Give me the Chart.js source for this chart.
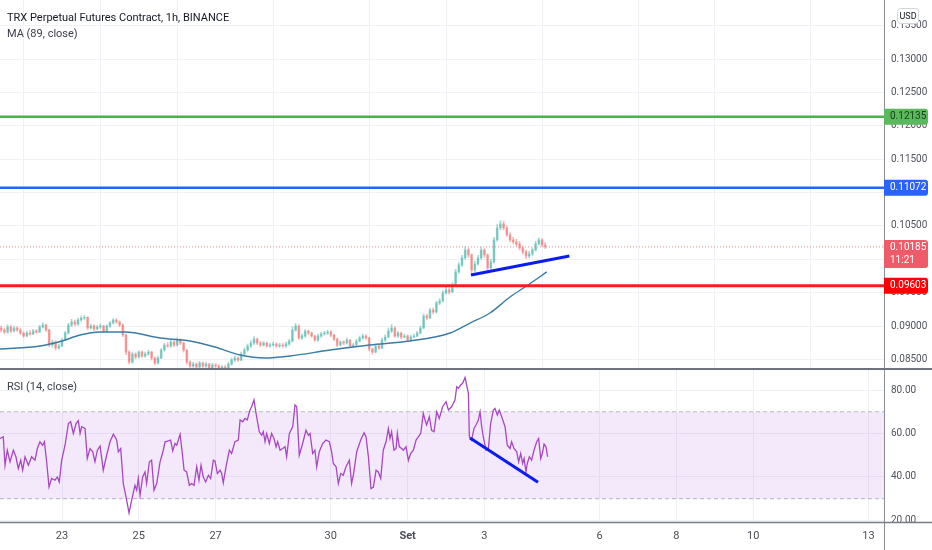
<!DOCTYPE html>
<html>
<head>
<meta charset="utf-8">
<title>TRX Perpetual Futures Contract, 1h</title>
<script src="https://cdn.jsdelivr.net/npm/chart.js@4.4.0/dist/chart.umd.min.js"></script>
<style>
  body { margin: 0; background: #fff; }
  #wrap { position: relative; width: 932px; height: 550px; overflow: hidden; }
  canvas { position: absolute; left: 0; }
  .lg { position: absolute; left: 7px; font: 11px Roboto, sans-serif; color: #131722; white-space: nowrap; }
  .lg.sub { color: #3b3e47; }
</style>
</head>
<body>
<div id="wrap">
  <canvas id="priceChart" width="932" height="370" style="top:0"></canvas>
  <canvas id="rsiChart" width="932" height="180" style="top:370px"></canvas>
  <div class="lg" style="top:11px">TRX Perpetual Futures Contract, 1h, BINANCE</div>
  <div class="lg sub" style="top:27px">MA (89, close)</div>
  <div class="lg sub" style="top:380px">RSI (14, close)</div>
</div>
<script>
var fontFamily = "Roboto, sans-serif";
Chart.defaults.font.family = fontFamily;
Chart.defaults.font.size = 10;
Chart.defaults.color = '#50535e';

// hours are counted from 23 Aug 00:00, one candle every 2 hours
var firstHour = -38;
var stepHours = 2;
var firstOpen = 0.0897;

var closes = [
  0.0894,0.0891,0.08985,0.08925,0.0897,0.0894,0.08895,0.0885,0.08895,0.0888,
  0.08925,0.0891,0.08985,0.09015,0.0894,0.08715,0.0876,0.0867,0.0870,0.0879,
  0.08895,0.09015,0.0906,0.0903,0.0909,0.0912,0.0913,0.0897,0.0900,0.08955,
  0.08985,0.0900,0.08925,0.0900,0.09045,0.0909,0.0906,0.09015,0.08865,0.0861,
  0.0846,0.0858,0.08535,0.0861,0.0855,0.0858,0.0861,0.0852,0.08445,0.0852,
  0.0864,0.08715,0.0870,0.0876,0.08715,0.0879,0.08745,0.0864,0.0846,0.0840,
  0.0843,0.08385,0.08445,0.0840,0.0843,0.0837,0.08415,0.0840,0.08355,0.08385,
  0.0837,0.0843,0.0849,0.0852,0.0849,0.0858,0.0864,0.0870,0.08745,0.08805,
  0.08745,0.08715,0.08745,0.0870,0.08715,0.0873,0.0870,0.08715,0.0870,0.0873,
  0.08775,0.0894,0.0900,0.0882,0.0885,0.08925,0.08895,0.0885,0.0879,0.0885,
  0.0888,0.08895,0.0891,0.08865,0.08805,0.08715,0.0876,0.08745,0.0879,0.0870,
  0.08715,0.08775,0.0882,0.0885,0.0882,0.08655,0.0861,0.0870,0.0867,0.0879,
  0.08835,0.08925,0.0897,0.0885,0.08895,0.08835,0.0885,0.0879,0.08835,0.0885,
  0.08895,0.0897,0.0915,0.0912,0.0924,0.0921,0.09345,0.09375,0.09495,0.0954,
  0.0951,0.09615,0.0981,0.09915,0.1002,0.1014,0.10065,0.0984,0.0993,0.1002,
  0.1014,0.10065,0.0987,0.0996,0.1029,0.1047,0.1053,0.1047,0.10365,0.1029,
  0.1026,0.1023,0.1017,0.1011,0.1005,0.1008,0.1014,0.1023,0.1029,0.10215,
  0.10185
];
var highs = [
  0.0900,0.0897,0.0902,0.0901,0.0900,0.0899,0.0897,0.0891,0.0892,0.0893,
  0.0895,0.0895,0.0901,0.0905,0.0903,0.0895,0.0879,0.0878,0.0873,0.0882,
  0.0892,0.0904,0.0910,0.0909,0.0912,0.0915,0.0916,0.0914,0.0903,0.0902,
  0.0901,0.0903,0.0901,0.0902,0.0907,0.0911,0.0911,0.0908,0.0903,0.0888,
  0.0863,0.0861,0.0860,0.0863,0.0863,0.0861,0.0864,0.0862,0.0854,0.0855,
  0.0866,0.0874,0.0875,0.0879,0.0878,0.0882,0.0881,0.0876,0.0865,0.0848,
  0.0846,0.0845,0.0847,0.0846,0.0846,0.0844,0.0844,0.0844,0.0842,0.0841,
  0.0841,0.0846,0.0852,0.0855,0.0854,0.0861,0.0867,0.0873,0.0878,0.0884,
  0.0882,0.0877,0.0877,0.0876,0.0874,0.0876,0.0875,0.0874,0.0874,0.0876,
  0.0880,0.0899,0.0904,0.0902,0.0888,0.0895,0.0894,0.0891,0.0886,0.0888,
  0.0891,0.0892,0.0894,0.0893,0.0888,0.0882,0.0878,0.0878,0.0882,0.0880,
  0.0874,0.0880,0.0885,0.0888,0.0887,0.0883,0.0867,0.0872,0.0872,0.0882,
  0.0887,0.0897,0.0902,0.0899,0.0892,0.0891,0.0888,0.0887,0.0886,0.0888,
  0.0892,0.0900,0.0918,0.0918,0.0927,0.0927,0.0937,0.0941,0.0953,0.0958,
  0.0957,0.0965,0.0985,0.0995,0.1006,0.1019,0.1017,0.1008,0.0997,0.1006,
  0.1018,0.1016,0.1008,0.1000,0.1033,0.1052,0.1058,0.1057,0.1050,0.1040,
  0.1033,0.1030,0.1027,0.1020,0.1014,0.1012,0.1017,0.1027,0.1032,0.1031,
  0.1025
];
var lows = [
  0.0891,0.0888,0.0889,0.0890,0.0891,0.0892,0.0887,0.0883,0.0884,0.0886,
  0.0887,0.0889,0.0890,0.0897,0.0892,0.0869,0.0868,0.0864,0.0865,0.0869,
  0.0878,0.0888,0.0899,0.0900,0.0901,0.0907,0.0909,0.0895,0.0895,0.0893,
  0.0894,0.0896,0.0890,0.0891,0.0898,0.0903,0.0904,0.0899,0.0884,0.0857,
  0.0843,0.0844,0.0851,0.0852,0.0853,0.0853,0.0856,0.0849,0.0842,0.0843,
  0.0851,0.0862,0.0868,0.0868,0.0869,0.0870,0.0872,0.0861,0.0843,0.0837,
  0.0838,0.0836,0.0837,0.0837,0.0838,0.0834,0.0835,0.0837,0.0832,0.0833,
  0.0834,0.0836,0.0841,0.0847,0.0847,0.0848,0.0856,0.0862,0.0868,0.0872,
  0.0872,0.0869,0.0870,0.0868,0.0868,0.0870,0.0868,0.0868,0.0868,0.0868,
  0.0871,0.0876,0.0892,0.0880,0.0880,0.0883,0.0887,0.0883,0.0877,0.0877,
  0.0883,0.0886,0.0887,0.0884,0.0878,0.0869,0.0870,0.0872,0.0873,0.0868,
  0.0868,0.0870,0.0876,0.0880,0.0880,0.0863,0.0858,0.0860,0.0865,0.0866,
  0.0877,0.0882,0.0890,0.0883,0.0883,0.0881,0.0882,0.0877,0.0878,0.0882,
  0.0884,0.0888,0.0896,0.0909,0.0911,0.0918,0.0919,0.0932,0.0936,0.0948,
  0.0948,0.0950,0.0960,0.0979,0.0989,0.1000,0.1003,0.0978,0.0981,0.0991,
  0.1000,0.1003,0.0982,0.0985,0.0994,0.1027,0.1044,0.1044,0.1034,0.1026,
  0.1023,0.1020,0.1014,0.1008,0.1001,0.1002,0.1005,0.1012,0.1021,0.1019,
  0.1016
];

var maHours = [-38.8,-13.8,0,11.3,23.8,39.4,61.3,80,95.6,111.3,126.9,142.5,167.5,192.5,217.5,242.5,255,267.5,280,289.4,303];
var maValues = [0.08655,0.0870,0.08775,0.08865,0.0891,0.0891,0.0882,0.08775,0.08685,0.08565,0.0852,0.0855,0.0864,0.08715,0.08775,0.08895,0.09045,0.09195,0.09435,0.09585,0.0981];

var rsiHours = [
  -38.8,-36.7,-35.6,-34.2,-32.5,-30.4,-28.8,-27.3,-25.8,-24.6,-23.1,-21.0,-19.0,-16.9,-15.4,-13.8,-12.1,-11.0,-9.6,-8.1,
  -6.5,-4.4,-2.9,-1.7,-0.2,1.9,4.0,5.4,7.1,8.8,10.2,11.3,12.3,14.4,15.8,17.5,19.2,20.6,22.1,23.8,
  25.8,27.9,30.0,32.1,34.2,35.2,36.7,38.3,40.0,41.9,43.5,45.6,46.7,47.7,48.8,50.4,51.9,52.9,54.6,56.0,
  57.5,59.2,61.3,63.3,64.4,66.5,67.9,69.2,70.6,71.7,73.8,75.2,76.3,77.9,79.6,81.0,82.5,84.2,85.6,86.9,
  88.3,89.8,91.5,92.9,94.6,95.6,97.1,98.8,99.8,100.8,102.5,104.6,106.0,108.1,110.2,111.3,112.9,114.4,115.8,117.5,
  118.5,120.0,121.3,123.3,124.8,125.8,126.9,127.9,129.6,131.0,132.5,133.8,134.8,136.3,137.9,139.4,140.4,142.1,144.2,145.6,
  146.7,148.3,150.4,152.5,154.0,155.0,156.7,158.1,159.2,160.8,162.9,165.0,167.1,168.5,169.6,171.3,172.7,174.2,175.8,177.5,
  179.6,181.0,182.1,184.2,186.7,188.8,190.0,191.5,193.1,194.6,196.3,197.7,199.2,200.8,202.5,204.0,205.0,206.0,207.5,208.8,
  209.6,210.8,212.3,213.3,215.0,216.5,217.9,219.6,221.3,222.7,224.2,225.8,226.9,227.9,229.6,231.0,232.5,234.2,235.8,237.9,
  240.0,241.5,243.5,245.6,246.7,247.7,249.2,250.4,251.9,252.9,254.0,254.6,256.0,257.5,258.8,260.2,261.3,262.3,263.3,265.0,
  266.5,267.9,269.6,270.6,272.1,273.3,274.8,276.9,278.3,280.0,281.0,282.5,284.2,285.4,286.7,287.9,288.8,290.0,290.8,292.1,
  293.5,295.0,296.7,297.9,299.2,300.2,301.3,302.5,303.5
];
var rsiValues = [
  57.7,58.5,45.4,52.3,47.0,52.3,49.3,43.9,47.7,43.1,49.3,45.4,49.3,47.7,53.1,56.2,54.6,56.2,47.0,35.4,
  39.3,38.5,40.0,37.7,47.7,54.6,64.6,65.4,60.0,64.6,65.9,60.0,63.1,62.3,48.5,53.1,51.6,47.0,52.3,54.2,
  43.1,50.0,56.2,59.7,57.0,51.6,53.1,37.0,30.8,23.5,29.3,36.2,33.9,39.3,31.6,40.0,42.3,37.0,47.0,47.7,
  33.9,37.0,47.0,52.3,56.2,56.6,57.0,52.0,55.4,54.6,59.6,50.8,43.1,42.3,36.2,37.0,36.2,44.7,38.5,45.4,
  40.0,37.7,40.8,39.3,47.7,47.4,41.6,43.1,41.6,37.3,44.7,52.3,50.8,56.2,57.0,66.2,65.4,66.9,66.2,70.8,
  72.3,75.4,69.2,60.8,59.2,60.8,56.2,60.0,55.4,60.0,57.7,53.9,56.2,52.3,53.1,53.9,49.3,60.0,63.1,73.1,
  72.3,50.0,55.4,61.5,59.2,60.0,50.8,52.3,44.7,51.6,55.4,57.0,56.2,51.6,46.2,44.7,37.0,41.6,40.8,44.7,
  47.7,37.0,40.8,51.6,57.0,60.3,58.5,49.3,34.7,35.4,43.1,42.3,39.3,52.3,56.2,62.3,57.7,60.8,52.3,53.1,
  60.0,53.9,53.1,52.3,53.9,47.7,50.8,52.3,57.0,58.5,60.0,69.2,66.2,63.9,67.7,61.5,60.8,70.0,66.9,72.3,
  74.6,70.8,72.3,75.4,81.5,80.8,82.3,83.1,85.8,82.3,78.4,58.5,57.0,62.3,63.9,66.2,70.0,63.1,58.5,52.3,
  53.1,64.6,70.8,71.5,68.5,70.8,67.7,63.1,54.6,53.1,56.2,53.1,51.6,47.0,50.8,46.2,48.5,42.3,46.2,49.3,
  47.7,52.3,56.2,57.7,48.5,50.8,55.1,53.9,49.3
];

var tickHours = [0, 48, 96, 168, 216, 264, 336, 384, 432, 504];
var tickLabels = ['23', '25', '27', '30', 'Set', '3', '6', '8', '10', '13'];
var priceTicks = [0.085, 0.09, 0.095, 0.10, 0.105, 0.11, 0.115, 0.12, 0.125, 0.13, 0.135];
var rsiTicks = [20, 40, 60, 80];
var rsiBand = [70, 30];

var levelValues = [0.12135, 0.11072, 0.09603];
var lastPrice = 0.10185;
var countdown = '11:21';
var trendHours = [255.6, 317.1];
var trendPrices = [0.09764, 0.10049];
var rsiTrendHours = [255, 297.5];
var rsiTrendValues = [57.9, 37.6];

var xMin = -38.75, xMax = 513.75;
var upColor = 'rgba(38,166,154,0.42)';
var downColor = 'rgba(239,83,80,0.42)';
var levelColors = ['#4caf50', '#2962ff', '#ff1a1a'];
var levelWidths = [2.5, 2.5, 3];
var trendColor = '#0a1cf0';
var gridColor = '#eef1f6';

function flat(v) { return [{ x: xMin, y: v }, { x: xMax, y: v }]; }
function pairs(xs, ys) { return xs.map(function (x, i) { return { x: x, y: ys[i] }; }); }
function fixWidth(s) { s.width = 48; s.paddingTop = 0; s.paddingBottom = 0; }

var bodies = [], wicks = [], candleColors = [];
for (var i = 0; i < closes.length; i++) {
  var h = firstHour + i * stepHours;
  var o = i === 0 ? firstOpen : closes[i - 1];
  bodies.push({ x: h, y: [o, closes[i]] });
  wicks.push({ x: h, y: [lows[i], highs[i]] });
  candleColors.push(closes[i] >= o ? upColor : downColor);
}

function tag(ctx, x, top, h, fill, lines, color) {
  ctx.fillStyle = fill;
  ctx.beginPath();
  ctx.roundRect(x, top, 44, h, [0, 3, 3, 0]);
  ctx.fill();
  ctx.fillStyle = color;
  ctx.font = '10px ' + fontFamily;
  ctx.textAlign = 'left';
  ctx.textBaseline = 'middle';
  lines.forEach(function (t, k) { ctx.fillText(t, x + 6, top + 8 + k * 13); });
}

var priceOverlay = {
  id: 'priceOverlay',
  afterDraw: function (chart) {
    var ctx = chart.ctx, a = chart.chartArea, ys = chart.scales.y;
    ctx.save();
    ctx.strokeStyle = '#8a8d96';
    ctx.lineWidth = 1;
    ctx.beginPath(); ctx.moveTo(a.right + 0.5, 0); ctx.lineTo(a.right + 0.5, chart.height); ctx.stroke();
    ctx.strokeStyle = '#6f727c';
    ctx.lineWidth = 2;
    ctx.beginPath(); ctx.moveTo(0, a.bottom); ctx.lineTo(chart.width, a.bottom); ctx.stroke();

    var gy = ys.getPixelForValue(levelValues[0]);
    tag(ctx, a.right, gy - 8, 16, '#5cb85c', [levelValues[0].toFixed(5)], '#16401a');
    var by = ys.getPixelForValue(levelValues[1]);
    tag(ctx, a.right, by - 8, 16, '#2962ff', [levelValues[1].toFixed(5)], '#ffffff');
    var cy = ys.getPixelForValue(lastPrice);
    tag(ctx, a.right, cy - 7, 28, '#ef5b69', [lastPrice.toFixed(5), countdown], '#ffffff');
    var ry = ys.getPixelForValue(levelValues[2]);
    tag(ctx, a.right, ry - 8, 16, '#ff0000', [levelValues[2].toFixed(5)], '#ffffff');

    // currency badge
    ctx.fillStyle = '#ffffff';
    ctx.strokeStyle = '#d1d4dc';
    ctx.lineWidth = 1;
    ctx.beginPath(); ctx.roundRect(897.5, 8.5, 21, 15, 3); ctx.fill(); ctx.stroke();
    ctx.fillStyle = '#131722';
    ctx.font = '9px ' + fontFamily;
    ctx.textAlign = 'center';
    ctx.textBaseline = 'middle';
    ctx.fillText('USD', 908, 16.5);
    ctx.restore();
  }
};

var rsiOverlay = {
  id: 'rsiOverlay',
  afterDraw: function (chart) {
    var ctx = chart.ctx, a = chart.chartArea;
    ctx.save();
    ctx.strokeStyle = '#8a8d96';
    ctx.lineWidth = 1;
    ctx.beginPath(); ctx.moveTo(a.right + 0.5, 0); ctx.lineTo(a.right + 0.5, chart.height); ctx.stroke();
    ctx.strokeStyle = '#787b86';
    ctx.lineWidth = 1.5;
    ctx.beginPath(); ctx.moveTo(0, a.bottom + 0.5); ctx.lineTo(chart.width, a.bottom + 0.5); ctx.stroke();
    ctx.restore();
  }
};

var xGrid = { color: gridColor, drawTicks: false };

new Chart(document.getElementById('priceChart'), {
  type: 'bar',
  data: {
    datasets: [
      { type: 'line', data: pairs(trendHours, trendPrices), borderColor: trendColor, borderWidth: 3, pointRadius: 0, order: 1 },
      { type: 'line', data: flat(levelValues[0]), borderColor: levelColors[0], borderWidth: levelWidths[0], pointRadius: 0, order: 2 },
      { type: 'line', data: flat(levelValues[1]), borderColor: levelColors[1], borderWidth: levelWidths[1], pointRadius: 0, order: 2 },
      { type: 'line', data: flat(levelValues[2]), borderColor: levelColors[2], borderWidth: levelWidths[2], pointRadius: 0, order: 2 },
      { type: 'line', data: flat(lastPrice), borderColor: '#f28c96', borderWidth: 1, borderDash: [1, 2], pointRadius: 0, order: 3 },
      { type: 'line', data: pairs(maHours, maValues), borderColor: '#3a7ca5', borderWidth: 1.4, pointRadius: 0, cubicInterpolationMode: 'monotone', order: 4 },
      { data: bodies, backgroundColor: candleColors, barThickness: 2, grouped: false, borderWidth: 0, clip: 0, order: 5 },
      { data: wicks, backgroundColor: candleColors, barThickness: 1, grouped: false, borderWidth: 0, clip: 0, order: 6 }
    ]
  },
  options: {
    responsive: false,
    animation: false,
    layout: { padding: 0 },
    plugins: { legend: { display: false }, tooltip: { enabled: false } },
    scales: {
      x: {
        type: 'linear', min: xMin, max: xMax, offset: false,
        afterBuildTicks: function (s) { s.ticks = tickHours.map(function (v) { return { value: v }; }); },
        afterFit: function (s) { s.height = 1; s.paddingLeft = 0; s.paddingRight = 0; },
        ticks: { display: false },
        grid: xGrid,
        border: { display: false }
      },
      y: {
        position: 'right', min: 0.08356, max: 0.13884,
        afterBuildTicks: function (s) { s.ticks = priceTicks.map(function (v) { return { value: v }; }); },
        afterFit: fixWidth,
        ticks: { padding: 7, callback: function (v) { return v.toFixed(5); } },
        grid: { color: gridColor, drawTicks: false },
        border: { display: false }
      }
    }
  },
  plugins: [priceOverlay]
});

new Chart(document.getElementById('rsiChart'), {
  type: 'line',
  data: {
    datasets: [
      { data: pairs(rsiTrendHours, rsiTrendValues), borderColor: trendColor, borderWidth: 3, pointRadius: 0, order: 1 },
      { data: pairs(rsiHours, rsiValues), borderColor: '#a747c2', borderWidth: 1.3, pointRadius: 0, tension: 0, order: 2 },
      { data: flat(rsiBand[0]), borderColor: '#b8b9c2', borderWidth: 1, borderDash: [4, 3], pointRadius: 0, fill: '+1', backgroundColor: 'rgba(180,90,230,0.14)', order: 3 },
      { data: flat(rsiBand[1]), borderColor: '#b8b9c2', borderWidth: 1, borderDash: [4, 3], pointRadius: 0, fill: false, order: 4 }
    ]
  },
  options: {
    responsive: false,
    animation: false,
    layout: { padding: 0 },
    plugins: { legend: { display: false }, tooltip: { enabled: false } },
    scales: {
      x: {
        type: 'linear', min: xMin, max: xMax, offset: false,
        afterBuildTicks: function (s) { s.ticks = tickHours.map(function (v) { return { value: v }; }); },
        afterFit: function (s) { s.height = 28; s.paddingLeft = 0; s.paddingRight = 0; },
        ticks: {
          padding: 8, maxRotation: 0, autoSkip: false, color: '#4a4d57',
          font: function (c) { return { family: fontFamily, size: 11, weight: (c.tick && c.tick.label === 'Set') ? 'bold' : 'normal' }; },
          callback: function (v) { return tickLabels[tickHours.indexOf(v)]; }
        },
        grid: xGrid,
        border: { display: false }
      },
      y: {
        position: 'right', min: 19.3, max: 89.2,
        afterBuildTicks: function (s) { s.ticks = rsiTicks.map(function (v) { return { value: v }; }); },
        afterFit: fixWidth,
        ticks: { padding: 7, callback: function (v) { return v.toFixed(2); } },
        grid: { color: gridColor, drawTicks: false },
        border: { display: false }
      }
    }
  },
  plugins: [rsiOverlay]
});
</script>
</body>
</html>
